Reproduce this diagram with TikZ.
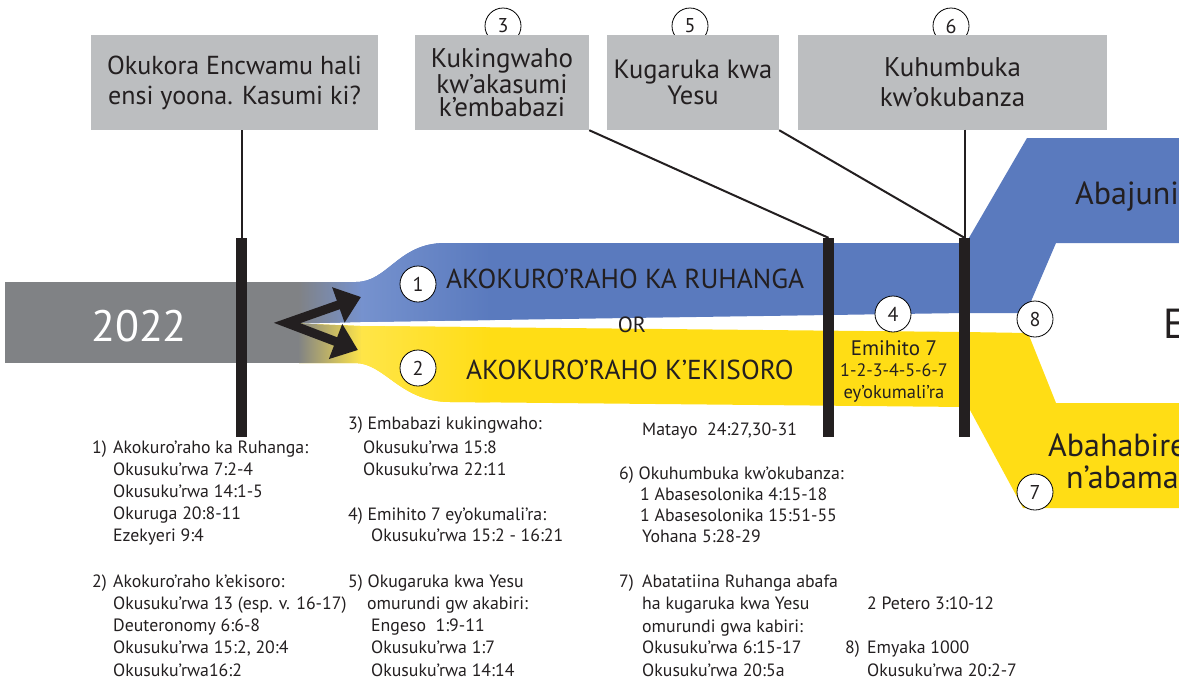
\documentclass[tikz,border=0pt]{standalone}
\usepackage{fontspec}
\setmainfont{PT Sans}
\usetikzlibrary{arrows.meta}
\definecolor{bandgray}{RGB}{128,130,133}
\definecolor{boxgray}{RGB}{188,190,192}
\definecolor{mblue}{RGB}{90,122,190}
\definecolor{lblue}{RGB}{118,146,206}
\definecolor{myellow}{RGB}{255,221,21}
\definecolor{lyellow}{RGB}{255,229,72}
\definecolor{barblack}{RGB}{35,31,32}
\definecolor{txt}{RGB}{35,31,32}
\begin{document}
\begin{tikzpicture}[x=1pt,y=-1pt,
  topbox/.style={fill=boxgray, minimum width=#1, minimum height=95, inner sep=0, align=center, text=txt},
  num/.style={circle, draw=black, line width=0.8, fill=white, minimum size=36, inner sep=0, text=txt, font=\fontsize{20}{20}\selectfont},
  barnode/.style={fill=barblack, minimum width=11, minimum height=199, inner sep=0},
  conn/.style={draw=barblack, line width=2},
  lst/.style={anchor=west, inner sep=0, text=txt, font=\fontsize{17.8}{17.8}\selectfont, text height=12, text depth=3},
  bandtxt/.style={anchor=base west, inner sep=0, text=txt, font=\fontsize{27.4}{27.4}\selectfont},
  bigtxt/.style={anchor=base west, inner sep=0, text=txt, font=\fontsize{32}{32}\selectfont},
  yeltxt/.style={anchor=base, inner sep=0, text=txt}
]
\useasboundingbox (0,0) rectangle (1179,683);
\clip (0,0) rectangle (1179,683);

% gray band
\fill[bandgray] (5,282) rectangle (303,363);
\node[anchor=base, inner sep=0, text=white, font=\fontsize{44}{44}\selectfont] (y2022) at (139,341) {2022};

% blue band
\def\bluepath{(299,282) -- (356,282) .. controls (388,282) and (398,243) .. (445,243) -- (966,243) -- (1027,138) -- (1190,138) -- (1190,243) -- (1056,243) -- (1026,313) -- (965,313) -- (360,322) -- (299,323.5) -- cycle}
\fill[mblue] \bluepath;
\begin{scope}
  \clip \bluepath;
  \shade[left color=bandgray, right color=lblue] (298,270) rectangle (362,330);
  \shade[left color=lblue, right color=mblue] (361,230) rectangle (490,330);
\end{scope}

% yellow band
\def\yellowpath{(299,323.5) -- (360,326) -- (965,332) -- (1028,333) -- (1056,403) -- (1190,403) -- (1190,508) -- (1023,508) -- (970,410) -- (965,407) -- (450,402) .. controls (400,402) and (385,363) .. (355,363) -- (299,363) -- cycle}
\fill[myellow] \yellowpath;
\begin{scope}
  \clip \yellowpath;
  \shade[left color=bandgray, right color=lyellow] (298,320) rectangle (362,410);
  \shade[left color=lyellow, right color=myellow] (361,320) rectangle (490,410);
\end{scope}

% arrows
\coordinate (av) at (287,323);
\coordinate (a1) at (361,297);
\coordinate (a2) at (358,350);
\draw[barblack, line width=9, line join=miter, {Triangle[length=24,width=36]}-{Triangle[length=24,width=36]}] (a1) -- (av) -- (a2);

% circles above boxes (behind)
\node[num] (c3) at (503,26) {3};
\node[num] (c5) at (690,26) {5};
\node[num] (c6) at (951,26) {6};

% top boxes
\node[topbox=287, font=\fontsize{26}{30}\selectfont] (bA) at (234.5,82.5) {Okukora Encwamu hali\\ensi yoona. Kasumi ki?};
\node[topbox=174, font=\fontsize{27}{23.5}\selectfont] (b3) at (502,82.5) {Kukingwaho\\kw’akasumi\\k’embabazi};
\node[topbox=172, font=\fontsize{26.5}{26}\selectfont] (b5) at (693,82.5) {Kugaruka kwa\\Yesu};
\node[topbox=309, font=\fontsize{27}{30}\selectfont] (b6) at (952.5,82) {Kuhumbuka\\kw’okubanza};

% bars
\node[barnode] (barA) at (241.5,337.5) {};
\node[barnode] (bar2) at (828.5,337.5) {};
\node[barnode] (bar3) at (964.5,337.5) {};

% connectors
\draw[conn] (bA.south -| barA.north) -- (barA.north);
\draw[conn] (b3.south east) -- (bar2.north);
\draw[conn] (b5.south east) -- (bar3.north);
\draw[conn] (bar3.north |- b6.south) -- (bar3.north);

% band circles
\node[num] (c1) at (418,284) {1};
\node[num] (c2) at (418,368) {2};
\node[num] (c4) at (893,314) {4};
\node[num] (c8) at (1035,319) {8};
\node[num] (c7) at (1035,492) {7};

% band texts
\node[bandtxt] (t1) at (446,288) {AKOKURO’RAHO KA RUHANGA};
\node[bandtxt] (t2) at (466,379) {AKOKURO’RAHO K’EKISORO};
\node[yeltxt, font=\fontsize{22}{22}\selectfont] (tor) at (632,332) {OR};
\node[yeltxt, font=\fontsize{21}{21}\selectfont] (e1) at (894,355) {Emihito 7};
\node[yeltxt, font=\fontsize{18}{18}\selectfont] (e2) at (894,376) {1-2-3-4-5-6-7};
\node[yeltxt, font=\fontsize{18.5}{18.5}\selectfont] (e3) at (894,398) {ey’okumali’ra};
\node[bigtxt] (ab1) at (1075,204) {Abajuni};
\node[anchor=base west, inner sep=0, text=txt, font=\fontsize{42}{42}\selectfont] (bigE) at (1163,338) {E};
\node[bigtxt] (ab2) at (1048,456) {Abahabire};
\node[bigtxt] (ab3) at (1066,488) {n’abama};

% column 1
\node[lst] (l1) at (92,449) {\makebox[21pt][l]{1)}Akokuro’raho ka Ruhanga:};
\node[lst] (l2) at (113,471) {Okusuku’rwa 7:2-4};
\node[lst] (l3) at (113,493) {Okusuku’rwa 14:1-5};
\node[lst] (l4) at (113,515) {Okuruga 20:8-11};
\node[lst] (l5) at (113,537) {Ezekyeri 9:4};
\node[lst] (l6) at (92,583) {\makebox[21pt][l]{2)}Akokuro’raho k’ekisoro:};
\node[lst] (l7) at (113,605) {Okusuku’rwa 13 (esp. v. 16-17)};
\node[lst] (l8) at (113,627) {Deuteronomy 6:6-8};
\node[lst] (l9) at (113,649) {Okusuku’rwa 15:2, 20:4};
\node[lst] (l10) at (113,672) {Okusuku’rwa16:2};

% column 2
\node[lst] (m1) at (348,425) {3) Embabazi kukingwaho:};
\node[lst] (m2) at (363,449) {Okusuku’rwa 15:8};
\node[lst] (m3) at (363,471) {Okusuku’rwa 22:11};
\node[lst] (m4) at (348,516) {4) Emihito 7 ey’okumali’ra:};
\node[lst] (m5) at (371,537) {Okusuku’rwa 15:2 - 16:21};
\node[lst] (m6) at (348,583) {5) Okugaruka kwa Yesu};
\node[lst] (m7) at (367,605) {omurundi gw akabiri:};
\node[lst] (m8) at (371,627) {Engeso\ \ 1:9-11};
\node[lst] (m9) at (371,649) {Okusuku’rwa 1:7};
\node[lst] (m10) at (371,672) {Okusuku’rwa 14:14};

% column 3
\node[lst] (n1) at (642,431) {Matayo\ \ 24:27,30-31};
\node[lst] (n2) at (619,475) {6) Okuhumbuka kw’okubanza:};
\node[lst] (n3) at (640,496) {1 Abasesolonika 4:15-18};
\node[lst] (n4) at (640,517) {1 Abasesolonika 15:51-55};
\node[lst] (n5) at (642,538) {Yohana 5:28-29};
\node[lst] (n6) at (619,583) {\makebox[23pt][l]{7)}Abatatiina Ruhanga abafa};
\node[lst] (n7) at (642,605) {ha kugaruka kwa Yesu};
\node[lst] (n8) at (642,628) {omurundi gwa kabiri:};
\node[lst] (n9) at (642,649) {Okusuku’rwa 6:15-17};
\node[lst] (n10) at (642,672) {Okusuku’rwa 20:5a};
\node[lst] (p1) at (867,605) {2 Petero 3:10-12};
\node[lst] (p2) at (845,649) {\makebox[22pt][l]{8)}Emyaka 1000};
\node[lst] (p3) at (867,672) {Okusuku’rwa 20:2-7};
\end{tikzpicture}
\end{document}
